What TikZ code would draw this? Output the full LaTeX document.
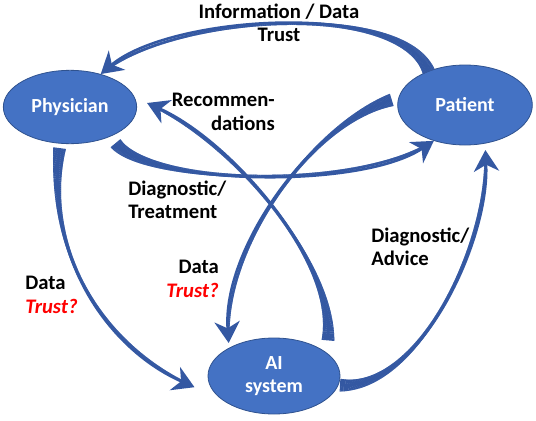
\documentclass[tikz,border=0pt]{standalone}
\usepackage{fontspec}
\setmainfont{Carlito}
\definecolor{dgblue}{RGB}{68,114,196}
\definecolor{dgdark}{RGB}{47,82,143}
\definecolor{dgarrow}{RGB}{52,88,162}
\definecolor{dgred}{RGB}{255,0,0}
\usetikzlibrary{arrows.meta,positioning,calc,shapes.geometric,decorations.markings}

\begin{document}
\begin{tikzpicture}[x=0.75pt,y=-0.75pt,
  actor/.style={ellipse,draw=dgdark,line width=0.6pt,fill=dgblue,minimum width=100pt,
    minimum height=56pt,align=center,font=\fontsize{15}{17.5}\selectfont\bfseries,
    text=white,inner sep=0pt},
  lbl/.style={font=\fontsize{15.5}{17.5}\selectfont\bfseries,inner sep=0pt},
  flow/.style={draw=dgarrow,line width=1.9pt,-{Stealth[length=16pt,width=19pt,inset=5pt]},
    postaction={decorate,decoration={markings,
      mark=between positions 0 and 0.96 step 0.5pt with {
        \pgfmathsetmacro\flowt{\pgfkeysvalueof{/pgf/decoration/mark info/distance from start}/\pgfdecoratedpathlength}
        \pgfmathsetmacro\flowwd{1.9+7.6*(1-\flowt)^6}
        \draw[-,dgarrow,line width=\flowwd pt] (-0.4pt,0) -- (0.4pt,0);}}}}
]
  \useasboundingbox (0,0) rectangle (536,421);
  % Actors
  \node[actor,minimum height=55pt] (phys) at (70,107) {Physician};
  \node[actor,minimum width=101pt,minimum height=60pt] (pat) at (465,105) {Patient};
  \node[actor,minimum width=99pt,minimum height=57pt] (ai) at (274,376) {AI\\system};
  % Flows between them
  \path[flow] (pat.137) .. controls (400,0) and (170,15) .. (phys.47);
  \path[flow] ([shift={(8,6)}]phys.321) .. controls (150,185) and (360,190) .. (pat.229);
  \path[flow] ([shift={(7,-9)}]ai.30) .. controls (335,260) and (230,140) .. ([shift={(10,-4)}]phys.east);
  \path[flow] ([shift={(-6,-5)}]pat.west) .. controls (310,125) and (222,250) .. ([shift={(-4,-3)}]ai.144);
  \path[flow] ([shift={(0,5)}]phys.254) .. controls (45,260) and (110,350) .. ([shift={(-16,0)}]ai.190);
  \path[flow] ([shift={(3,-2)}]ai.-10) .. controls (420,390) and (490,240) .. ([shift={(3,6)}]pat.294);
  % Labels
  \node[lbl,align=center] (info) at (279,23) {Information / Data\\Trust};
  \node[lbl,align=right,anchor=east] (reco) at (275,112) {Recommen-\\dations};
  \node[lbl,align=left,anchor=west] (dtreat) at (128,200) {Diagnostic/\\Treatment};
  \node[lbl,align=left,anchor=west] (ldata) at (25,295) {Data\\\textcolor{dgred}{\itshape Trust?}};
  \node[lbl,align=right,anchor=east] (mdata) at (219,279) {Data\\\textcolor{dgred}{\itshape Trust?}};
  \node[lbl,align=left,anchor=west] (dadv) at (371,247) {Diagnostic/\\Advice};
\end{tikzpicture}
\end{document}
